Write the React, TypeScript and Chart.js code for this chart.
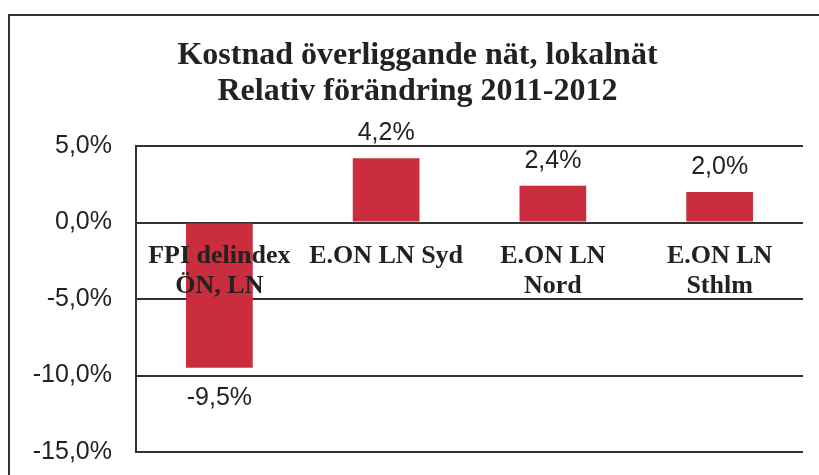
import React, { useEffect, useRef } from "react";
import { Chart, registerables } from "chart.js";

Chart.register(...registerables);

const titleLines = ["Kostnad överliggande nät, lokalnät", "Relativ förändring 2011-2012"];
const categories = [["FPI delindex", "ÖN, LN"], ["E.ON LN Syd"], ["E.ON LN", "Nord"], ["E.ON LN", "Sthlm"]];
const values = [-9.5, 4.2, 2.4, 2.0];
const yMin = -15;
const yMax = 5;
const yStep = 5;

const fmt = (v: number) => v.toFixed(1).replace(".", ",") + "%";

const valueLabels = {
  id: "valueLabels",
  afterDatasetsDraw(chart: any) {
    const ctx = chart.ctx;
    const meta = chart.getDatasetMeta(0);
    ctx.save();
    ctx.font = "25px 'Liberation Sans', Arial, sans-serif";
    ctx.fillStyle = "#222";
    ctx.textAlign = "center";
    ctx.textBaseline = "middle";
    meta.data.forEach((bar: any, i: number) => {
      const v = values[i];
      const y = v >= 0 ? bar.y - 25 : bar.y + 30;
      ctx.fillText(fmt(v), bar.x, y);
    });
    ctx.restore();
  },
};

export default function App() {
  const ref = useRef<HTMLCanvasElement>(null);
  useEffect(() => {
    if (!ref.current) return;
    const chart = new Chart(ref.current, {
      type: "bar",
      data: {
        labels: categories,
        datasets: [
          {
            data: values,
            backgroundColor: "#c92d3e",
            borderWidth: 0,
            barPercentage: 0.4,
            categoryPercentage: 1,
          },
        ],
      },
      options: {
        responsive: false,
        animation: false,
        devicePixelRatio: 1,
        layout: { padding: { left: 32, right: 16, top: 0, bottom: 23 } },
        plugins: {
          legend: { display: false },
          tooltip: { enabled: false },
          title: {
            display: true,
            text: titleLines,
            color: "#222",
            font: { family: "'Liberation Serif', 'Times New Roman', serif", size: 32, weight: "bold", lineHeight: 36 / 32 },
            padding: { top: 38, bottom: 36 },
          },
        },
        scales: {
          x: {
            type: "category",
            position: { y: 0 } as any,
            afterFit: (s: any) => {
              s.height = 0;
            },
            grid: { display: false, drawTicks: false },
            border: { display: false },
            ticks: {
              z: 1,
              color: "#222",
              padding: 19,
              maxRotation: 0,
              autoSkip: false,
              font: { family: "'Liberation Serif', 'Times New Roman', serif", size: 26, weight: "bold", lineHeight: 30 / 26 },
            },
          },
          y: {
            min: yMin,
            max: yMax,
            afterFit: (s: any) => {
              s.width = 104;
              s.paddingTop = 0;
              s.paddingBottom = 0;
            },
            ticks: {
              stepSize: yStep,
              padding: 24,
              color: "#222",
              font: { family: "'Liberation Sans', Arial, sans-serif", size: 25 },
              callback: (v: any) => fmt(Number(v)),
            },
            grid: { color: "#333", lineWidth: 2, drawTicks: false },
            border: { display: true, color: "#333", width: 2 },
          },
        },
      },
      plugins: [valueLabels],
    });
    return () => chart.destroy();
  }, []);
  return (
    <div>
      <canvas
        ref={ref}
        width={819}
        height={475}
        style={{ position: "fixed", left: 0, top: 0, width: 819, height: 475, background: "#fff" }}
      />
      <div
        style={{
          position: "fixed",
          left: 8,
          top: 14,
          width: 809,
          height: 459,
          borderLeft: "2px solid #333",
          borderTop: "2px solid #333",
          pointerEvents: "none",
        }}
      />
    </div>
  );
}
